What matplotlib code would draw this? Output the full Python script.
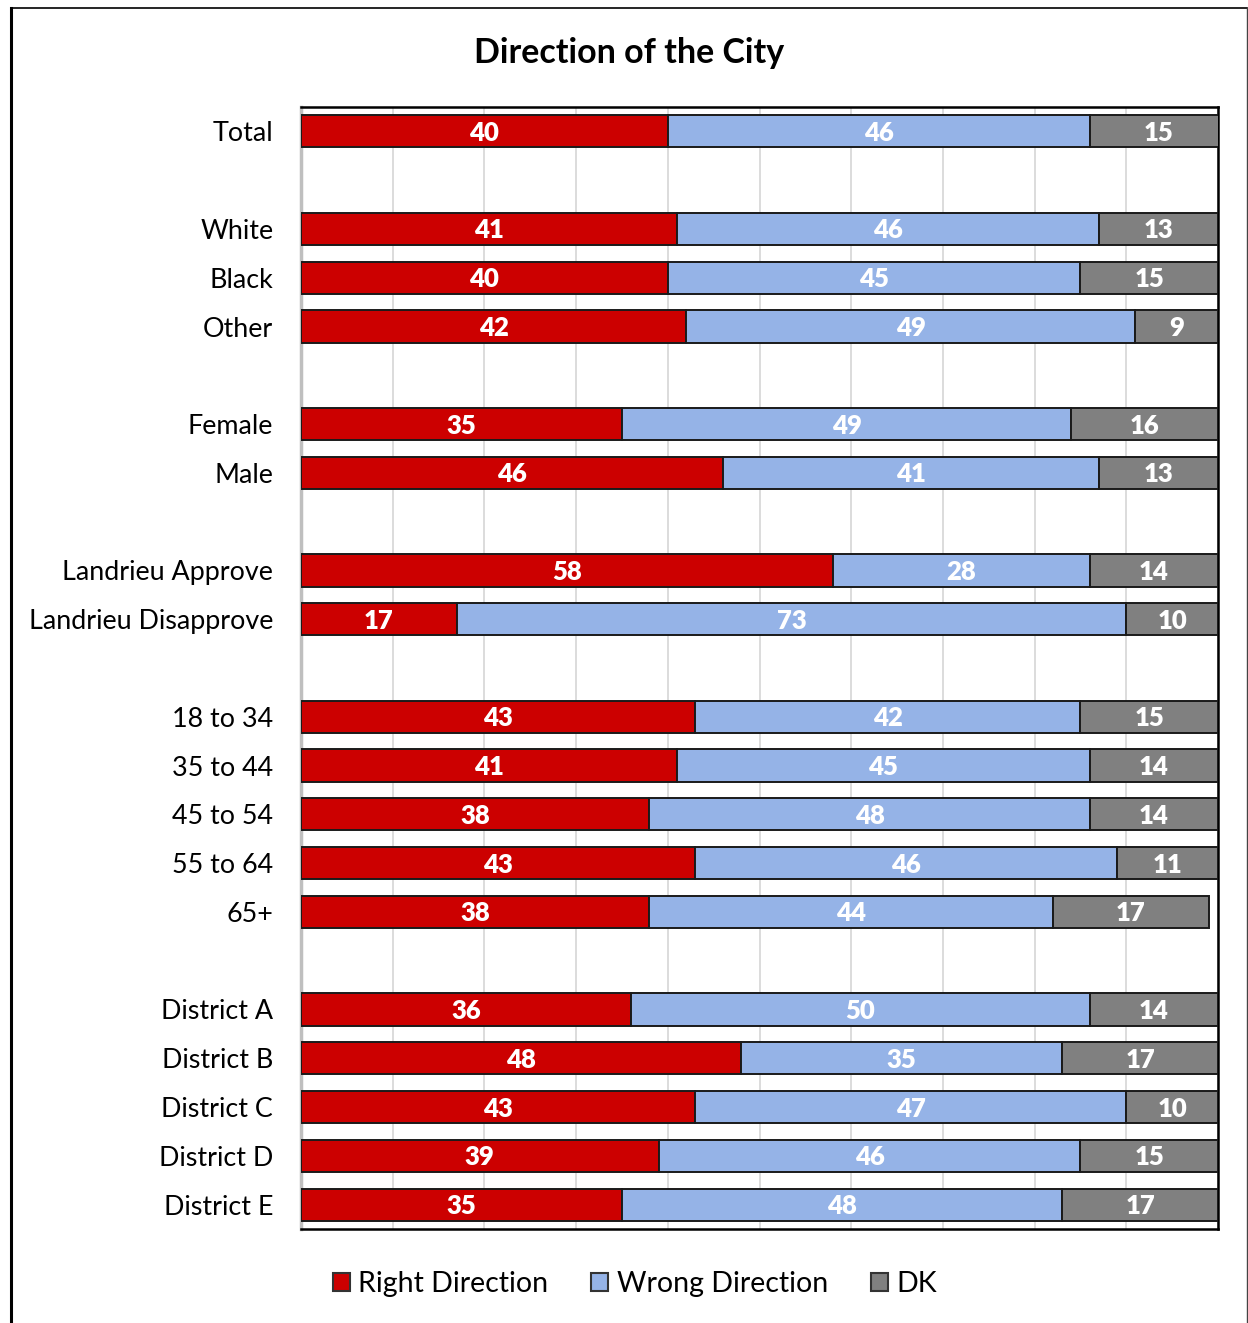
import matplotlib
matplotlib.use("Agg")
import matplotlib.pyplot as plt
from matplotlib.lines import Line2D
from matplotlib.patches import Patch

plt.rcParams['font.family'] = ['Lato', 'DejaVu Sans']

# Rows (None = blank spacer row)
categories = ["Total", None, "White", "Black", "Other", None, "Female", "Male", None,
              "Landrieu Approve", "Landrieu Disapprove", None,
              "18 to 34", "35 to 44", "45 to 54", "55 to 64", "65+", None,
              "District A", "District B", "District C", "District D", "District E"]
right_direction = [40, None, 41, 40, 42, None, 35, 46, None, 58, 17, None,
                   43, 41, 38, 43, 38, None, 36, 48, 43, 39, 35]
wrong_direction = [46, None, 46, 45, 49, None, 49, 41, None, 28, 73, None,
                   42, 45, 48, 46, 44, None, 50, 35, 47, 46, 48]
dk = [15, None, 13, 15, 9, None, 16, 13, None, 14, 10, None,
      15, 14, 14, 11, 17, None, 14, 17, 10, 15, 17]
series_names = ["Right Direction", "Wrong Direction", "DK"]
colors = ["#CC0000", "#95B3E7", "#808080"]
title = "Direction of the City"

fig = plt.figure(figsize=(12.48, 13.23), dpi=100)
ax = fig.add_axes([301/1248, 1 - 1229/1323, (1218-301)/1248, (1229-107)/1323])

n = len(categories)
series = [right_direction, wrong_direction, dk]
for i, cat in enumerate(categories):
    if cat is None:
        continue
    left = 0
    for s, col in zip(series, colors):
        v = s[i]
        ax.barh(i, v, left=left, height=0.66, color=col, edgecolor="#1a1a1a",
                linewidth=1.4, zorder=3)
        ax.text(left + v/2, i + 0.03, str(v), ha="center", va="center", color="white",
                fontsize=18.5, fontweight="heavy", zorder=4)
        left += v

ax.set_xlim(0, 100)
ax.set_ylim(n - 0.5, -0.5)
ax.set_xticks(range(0, 101, 10))
ax.xaxis.grid(True, color="#D9D9D9", linewidth=1.3, zorder=0)
ax.set_xticklabels([])
ax.tick_params(axis="x", length=0)
tick_pos = [i for i, c in enumerate(categories) if c is not None]
ax.set_yticks(tick_pos)
ax.set_yticklabels([categories[i] for i in tick_pos], fontsize=19.4)
ax.tick_params(axis="y", length=0, pad=20)
for side in ["top", "right", "bottom"]:
    ax.spines[side].set_color("black")
    ax.spines[side].set_linewidth(1.8)
ax.spines["left"].set_color("#BFBFBF")
ax.spines["left"].set_linewidth(2.5)

fig.text(629/1248, 1 - 53/1323, title, ha="center", va="center",
         fontsize=24.5, fontweight="bold")

handles = [Patch(facecolor=c, edgecolor="#333333", linewidth=1.5) for c in colors]
fig.legend(handles, series_names, loc="center", bbox_to_anchor=(635/1248, 1 - 1284/1323),
           ncol=3, frameon=False, fontsize=20.5, handlelength=0.6, handleheight=0.6,
           handletextpad=0.3, columnspacing=1.5)

# Figure border (left, top, right)
fig.add_artist(Line2D([11/1248, 11/1248], [0, 1 - 8/1323], color="black", linewidth=2.2,
                      transform=fig.transFigure))
fig.add_artist(Line2D([11/1248, 1247/1248], [1 - 8/1323, 1 - 8/1323], color="black",
                      linewidth=1.2, transform=fig.transFigure))
fig.add_artist(Line2D([1246.5/1248, 1246.5/1248], [0, 1 - 8/1323], color="#444444",
                      linewidth=1.0, transform=fig.transFigure))

fig.savefig("out.png", dpi=100)
